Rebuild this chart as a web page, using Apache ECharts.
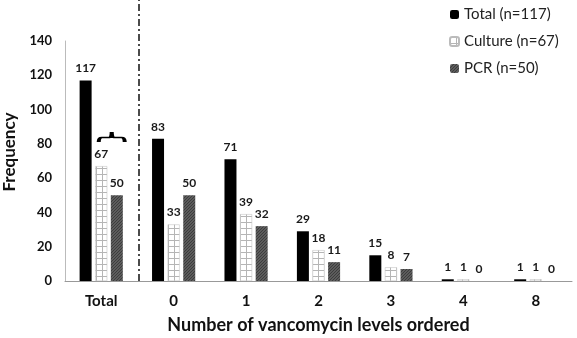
<!DOCTYPE html>
<html>
<head>
<meta charset="utf-8">
<script src="https://cdn.jsdelivr.net/npm/echarts@6/dist/echarts.min.js"></script>
<style>
  html, body { margin: 0; padding: 0; background: #fff; }
  #chart { width: 577px; height: 338px; }
</style>
</head>
<body>
<div id="chart"></div>
<script>
const categories = ['Total', '0', '1', '2', '3', '4', '8'];
const totalValues = [117, 83, 71, 29, 15, 1, 1];
const cultureValues = [67, 33, 39, 18, 8, 1, 1];
const pcrValues = [50, 50, 32, 11, 7, 0, 0];
const seriesNames = ['Total (n=117)', 'Culture (n=67)', 'PCR (n=50)'];

// grid texture for culture bars
const makeGrid = () => {
  const c = document.createElement('canvas');
  c.width = 6; c.height = 6;
  const ctx = c.getContext('2d');
  ctx.fillStyle = '#fff';
  ctx.fillRect(0, 0, 6, 6);
  ctx.fillStyle = '#b5b5b5';
  ctx.fillRect(0, 0, 6, 1);
  ctx.fillRect(0, 0, 1, 6);
  return c;
};

// dotted dark texture for PCR bars
const makeDots = () => {
  const c = document.createElement('canvas');
  c.width = 3; c.height = 3;
  const ctx = c.getContext('2d');
  ctx.fillStyle = '#5c5c5c';
  ctx.fillRect(0, 0, 3, 3);
  ctx.fillStyle = '#3c3c3c';
  ctx.fillRect(0, 0, 1, 1);
  ctx.fillRect(1, 2, 1, 1);
  ctx.fillRect(2, 1, 1, 1);
  return c;
};

const font = 'Lato, "Open Sans", sans-serif';
const labelStyle = {
  show: true,
  position: 'top',
  distance: 6,
  fontFamily: font,
  fontWeight: 'bold',
  fontSize: 12,
  color: '#1a1a1a'
};

const chart = echarts.init(document.getElementById('chart'));

chart.setOption({
  animation: false,
  textStyle: { fontFamily: font },
  grid: [
    { left: 65, right: 5, top: 41, bottom: 57, outerBoundsMode: 'none' },
    { left: 65, right: 5, top: 0, bottom: 57, outerBoundsMode: 'none' }
  ],
  legend: {
    orient: 'vertical',
    left: 444,
    top: 2,
    itemWidth: 9,
    itemHeight: 9,
    itemGap: 12,
    textStyle: { fontFamily: font, fontSize: 15, color: '#222' },
    data: seriesNames
  },
  xAxis: [
    {
      type: 'category',
      data: categories,
      axisLine: { lineStyle: { color: '#999' } },
      axisTick: { show: false },
      axisLabel: { margin: 13, fontFamily: font, fontWeight: 'bold', fontSize: 15, color: '#111' },
      name: 'Number of vancomycin levels ordered',
      nameLocation: 'middle',
      nameGap: 35,
      nameTextStyle: { fontFamily: font, fontWeight: 'bold', fontSize: 18, color: '#111' }
    },
    { type: 'value', gridIndex: 1, min: 0, max: 7, show: false }
  ],
  yAxis: [
    {
      type: 'value',
      min: 0,
      max: 140,
      interval: 20,
      axisLine: { show: true, lineStyle: { color: '#bbb' } },
      axisTick: { show: false },
      splitLine: { show: false },
      axisLabel: { margin: 13, fontFamily: font, fontWeight: 'bold', fontSize: 13, color: '#111' },
      name: 'Frequency',
      nameLocation: 'middle',
      nameGap: 46,
      nameTextStyle: { fontFamily: font, fontWeight: 'bold', fontSize: 17, color: '#111', padding: [0, 0, 0, 18] }
    },
    { type: 'value', gridIndex: 1, min: 0, max: 1, show: false }
  ],
  series: [
    {
      name: seriesNames[0],
      type: 'bar',
      data: totalValues,
      barWidth: 12,
      barGap: '30%',
      itemStyle: { color: '#000' },
      label: labelStyle
    },
    {
      name: seriesNames[1],
      type: 'bar',
      data: cultureValues,
      barWidth: 12,
      barGap: '30%',
      itemStyle: { color: { image: makeGrid(), repeat: 'repeat' }, borderColor: '#bbb', borderWidth: 0.5 },
      label: labelStyle,
      markPoint: {
        // brace over the culture and PCR bars of the Total group
        symbol: 'path://M0,11 Q0,6 3,6 L11,6 Q13,6 13,0 Q13,6 15,6 L23,6 Q26,6 26,11',
        symbolSize: [26, 10],
        symbolOffset: [10.5, 0],
        symbolKeepAspect: false,
        itemStyle: { color: 'none', borderColor: '#000', borderWidth: 2.5 },
        label: { show: false },
        data: [{ coord: ['Total', 84] }]
      }
    },
    {
      name: seriesNames[2],
      type: 'bar',
      data: pcrValues,
      barWidth: 12,
      barGap: '30%',
      itemStyle: { color: { image: makeDots(), repeat: 'repeat' } },
      label: labelStyle
    },
    {
      // dash-dot separator between Total and the per-count groups
      type: 'line',
      xAxisIndex: 1,
      yAxisIndex: 1,
      data: [],
      markLine: {
        silent: true,
        symbol: 'none',
        label: { show: false },
        lineStyle: { color: '#111', width: 1.5, type: [7, 3, 2, 3] },
        data: [[{ coord: [1.02, 0] }, { coord: [1.02, 1] }]]
      }
    }
  ]
});
</script>
</body>
</html>
